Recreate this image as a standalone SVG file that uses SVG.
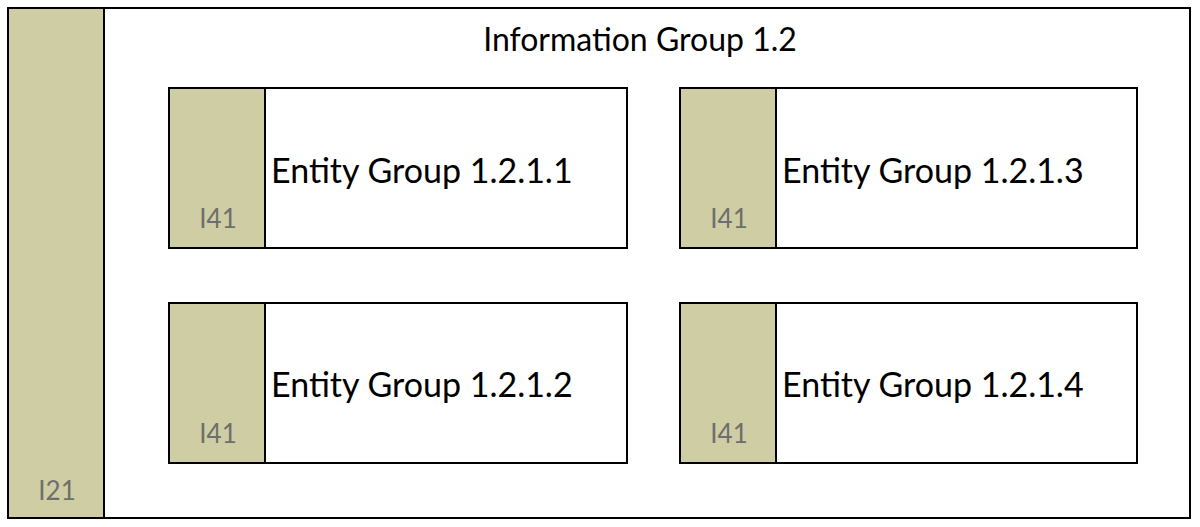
<svg xmlns="http://www.w3.org/2000/svg" width="1200" height="527" viewBox="0 0 1200 527">
<style>
.box{fill:#fff;stroke:#000;stroke-width:2}
.band{fill:#cfcda3;stroke:#000;stroke-width:2}
.lbl{font-family:Lato,"Liberation Sans",sans-serif;fill:#000}
.tag{font-family:Lato,"Liberation Sans",sans-serif;fill:#6e6e6e;font-size:26px;text-anchor:middle}
</style>
<rect width="1200" height="527" fill="#fff"/>
<g id="group12">
<rect class="box" x="8" y="8" width="1182" height="510"/>
<rect class="band" x="8" y="8" width="96" height="510"/>
<text class="tag" x="57" y="500">I21</text>
<text class="lbl" x="640" y="51" font-size="32" text-anchor="middle">Information Group 1.2</text>
</g>
<g id="eg1211">
<rect class="box" x="169" y="88" width="458" height="160"/>
<rect class="band" x="169" y="88" width="96" height="160"/>
<text class="tag" x="218" y="228">I41</text>
<text class="lbl" x="271" y="183" font-size="34">Entity Group 1.2.1.1</text>
</g>
<g id="eg1213">
<rect class="box" x="680" y="88" width="457" height="160"/>
<rect class="band" x="680" y="88" width="96" height="160"/>
<text class="tag" x="729" y="228">I41</text>
<text class="lbl" x="782" y="183" font-size="34">Entity Group 1.2.1.3</text>
</g>
<g id="eg1212">
<rect class="box" x="169" y="303" width="458" height="160"/>
<rect class="band" x="169" y="303" width="96" height="160"/>
<text class="tag" x="218" y="443">I41</text>
<text class="lbl" x="271" y="397" font-size="34">Entity Group 1.2.1.2</text>
</g>
<g id="eg1214">
<rect class="box" x="680" y="303" width="457" height="160"/>
<rect class="band" x="680" y="303" width="96" height="160"/>
<text class="tag" x="729" y="443">I41</text>
<text class="lbl" x="782" y="397" font-size="34">Entity Group 1.2.1.4</text>
</g>
<g id="connectors"/>
</svg>
